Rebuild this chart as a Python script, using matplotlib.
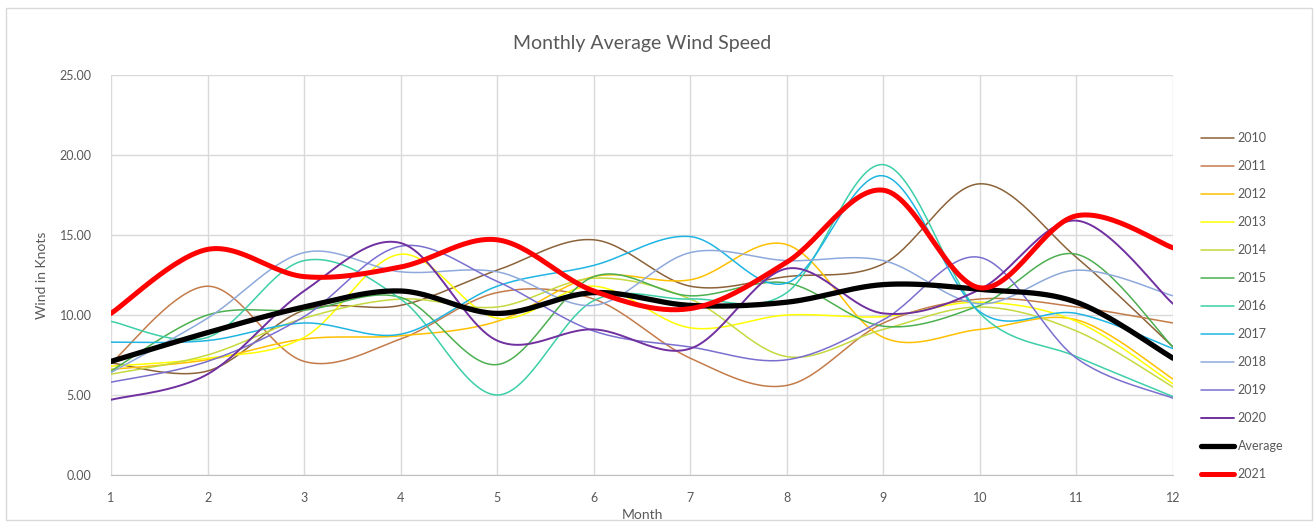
import matplotlib.pyplot as plt
import numpy as np
from matplotlib.patches import Rectangle

plt.rcParams['font.family'] = ['Lato', 'DejaVu Sans']

months = list(range(1, 13))

y2010 = [7.0, 6.5, 10.3, 10.6, 12.8, 14.7, 11.8, 12.4, 13.2, 18.2, 13.6, 8.0]
y2011 = [7.0, 11.8, 7.1, 8.5, 11.4, 11.0, 7.3, 5.6, 9.5, 11.0, 10.5, 9.5]
y2012 = [6.6, 7.2, 8.5, 8.7, 9.6, 12.4, 12.2, 14.4, 8.6, 9.1, 9.7, 6.0]
y2013 = [6.8, 7.3, 8.6, 13.8, 9.8, 11.8, 9.2, 10.0, 9.9, 10.8, 9.6, 5.7]
y2014 = [6.3, 7.5, 9.8, 11.0, 10.5, 12.3, 11.0, 7.4, 9.1, 10.5, 9.0, 5.5]
y2015 = [6.5, 10.0, 10.3, 11.1, 6.9, 12.4, 11.2, 12.0, 9.3, 10.6, 13.8, 8.0]
y2016 = [9.6, 8.6, 13.4, 11.0, 5.0, 10.9, 11.0, 11.4, 19.4, 10.1, 7.4, 4.9]
y2017 = [8.3, 8.4, 9.5, 8.8, 11.8, 13.1, 14.9, 12.0, 18.7, 10.2, 10.1, 7.9]
y2018 = [6.4, 9.8, 13.9, 12.7, 12.7, 10.6, 13.9, 13.4, 13.4, 10.7, 12.8, 11.2]
y2019 = [5.8, 7.1, 9.9, 14.3, 12.1, 9.0, 8.0, 7.2, 9.7, 13.6, 7.3, 4.8]
y2020 = [4.7, 6.3, 11.5, 14.5, 8.4, 9.1, 7.9, 12.9, 10.1, 11.6, 15.9, 10.7]
average = [7.1, 8.9, 10.5, 11.5, 10.1, 11.4, 10.6, 10.8, 11.9, 11.6, 10.8, 7.3]
y2021 = [10.1, 14.1, 12.4, 13.0, 14.7, 11.5, 10.4, 13.3, 17.8, 11.7, 16.2, 14.2]

series = [
    ("2010", y2010, '#8C6239', 1.1),
    ("2011", y2011, '#C47B4A', 1.1),
    ("2012", y2012, '#FFC000', 1.1),
    ("2013", y2013, '#FFFF00', 1.1),
    ("2014", y2014, '#C6D940', 1.1),
    ("2015", y2015, '#4CAF50', 1.1),
    ("2016", y2016, '#3CCFA8', 1.1),
    ("2017", y2017, '#1FB5E3', 1.1),
    ("2018", y2018, '#8EA9DB', 1.1),
    ("2019", y2019, '#7A6FCF', 1.1),
    ("2020", y2020, '#7030A0', 1.4),
    ("Average", average, '#000000', 3.8),
    ("2021", y2021, '#FF0000', 3.6),
]


def smooth(x, y, n=30):
    # excel-style smoothed line: cubic bezier through points
    x = np.asarray(x, float)
    y = np.asarray(y, float)
    px = np.concatenate([[x[0]], x, [x[-1]]])
    py = np.concatenate([[y[0]], y, [y[-1]]])
    t = np.linspace(0, 1, n)
    xs, ys = [], []
    for i in range(len(x) - 1):
        p0 = np.array([px[i + 1], py[i + 1]])
        p3 = np.array([px[i + 2], py[i + 2]])
        c1 = p0 + (p3 - np.array([px[i], py[i]])) / 6
        c2 = p3 - (np.array([px[i + 3], py[i + 3]]) - p0) / 6
        b = ((1 - t) ** 3)[:, None] * p0 + (3 * (1 - t) ** 2 * t)[:, None] * c1 \
            + (3 * (1 - t) * t ** 2)[:, None] * c2 + (t ** 3)[:, None] * p3
        xs.append(b[:, 0])
        ys.append(b[:, 1])
    return np.concatenate(xs), np.concatenate(ys)


fig = plt.figure(figsize=(13.16, 5.23), dpi=100)
ax = fig.add_axes([111 / 1316, 48 / 523, 1062 / 1316, 400 / 523])
fig.patches.append(Rectangle((6 / 1316, 3 / 523), 1306 / 1316, 512 / 523, transform=fig.transFigure,
                             fill=False, edgecolor='#D9D9D9', linewidth=1))

for label, vals, color, lw in series:
    sx, sy = smooth(months, vals)
    ax.plot(sx, sy, color=color, linewidth=lw, label=label, solid_capstyle='round')

ax.set_xlim(1, 12)
ax.set_ylim(0, 25)
ax.set_xticks(months)
ax.set_yticks(np.arange(0, 26, 5))
ax.set_yticklabels([f"{v:.2f}" for v in np.arange(0, 26, 5)])
ax.grid(True, color='#D9D9D9', linewidth=1)
ax.set_axisbelow(True)
for s in ['top', 'right', 'left']:
    ax.spines[s].set_visible(False)
ax.spines['bottom'].set_color('#BFBFBF')
ax.tick_params(axis='both', length=0, labelsize=9, colors='#595959')
ax.tick_params(axis='y', pad=14)
ax.tick_params(axis='x', pad=12)

ax.set_title('Monthly Average Wind Speed', fontsize=14, color='#595959', pad=19)
ax.set_xlabel('Month', fontsize=10, color='#595959', labelpad=4)
ax.set_ylabel('Wind in Knots', fontsize=10, color='#595959', labelpad=8)

fig.legend(loc='upper left', bbox_to_anchor=(1190 / 1316, 1 - 121 / 523), frameon=False,
           fontsize=9, labelcolor='#595959', handlelength=2.6, labelspacing=1.28, handletextpad=0.3)

fig.savefig('out.png', dpi=100)
